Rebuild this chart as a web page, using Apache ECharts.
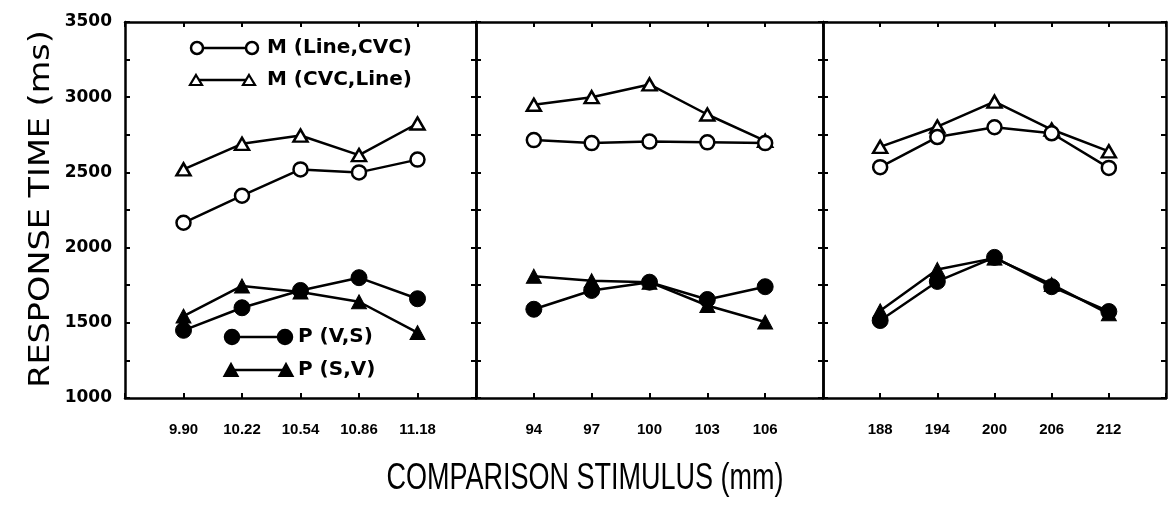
<!DOCTYPE html>
<html>
<head>
<meta charset="utf-8">
<script src="https://cdn.jsdelivr.net/npm/echarts@6/dist/echarts.min.js"></script>
<style>html,body{margin:0;padding:0;background:#fff}#c{width:1169px;height:505px}</style>
</head>
<body>
<div id="c"></div>
<script>
// ---- tick labels / categories ----
const xCats1 = ['9.90', '10.22', '10.54', '10.86', '11.18'];
const xCats2 = ['94', '97', '100', '103', '106'];
const xCats3 = ['188', '194', '200', '206', '212'];
const yLabels = [1000, 1500, 2000, 2500, 3000, 3500];

// ---- series values (ms) ----
// Panel 1
const mLineCVC1 = [2165, 2345, 2520, 2500, 2585];
const mCVCLine1 = [2520, 2690, 2745, 2615, 2825];
const pVS1 = [1450, 1600, 1715, 1800, 1660];
const pSV1 = [1545, 1745, 1705, 1640, 1435];
// Panel 2
const mLineCVC2 = [2715, 2695, 2705, 2700, 2695];
const mCVCLine2 = [2950, 3000, 3085, 2885, 2710];
const pVS2 = [1590, 1715, 1770, 1655, 1740];
const pSV2 = [1810, 1780, 1770, 1615, 1505];
// Panel 3
const mLineCVC3 = [2535, 2735, 2800, 2760, 2530];
const mCVCLine3 = [2670, 2805, 2970, 2785, 2640];
const pVS3 = [1515, 1775, 1935, 1740, 1575];
const pSV3 = [1580, 1855, 1930, 1755, 1560];

const chart = echarts.init(document.getElementById('c'));

const grids = [
  {left: 125, top: 22, width: 351, height: 376},
  {left: 476, top: 22, width: 347, height: 376},
  {left: 823, top: 22, width: 344, height: 376}
];
const cats = [xCats1, xCats2, xCats3];
const AX = {lineStyle: {color: '#000', width: 2.5}};

const xAxes = [], yAxes = [];
grids.forEach((g, gi) => {
  const c = cats[gi];
  xAxes.push({
    type: 'value', gridIndex: gi, min: -1, max: 5, interval: 1, position: 'bottom',
    axisLine: {show: true, onZero: false, lineStyle: AX.lineStyle},
    axisTick: {show: true, inside: true, length: 5, lineStyle: {color: '#000', width: 2}},
    splitLine: {show: false},
    axisLabel: {
      show: true, margin: 24, color: '#000',
      fontFamily: '"Liberation Sans", sans-serif', fontWeight: 'bold', fontSize: 15,
      formatter: v => { const i = Math.round(v); return (i >= 0 && i < c.length) ? c[i] : ''; }
    }
  });
  xAxes.push({
    type: 'value', gridIndex: gi, min: -1, max: 5, interval: 1, position: 'top',
    axisLine: {show: true, onZero: false, lineStyle: AX.lineStyle},
    axisTick: {show: true, inside: true, length: 5, lineStyle: {color: '#000', width: 2}},
    splitLine: {show: false}, axisLabel: {show: false}
  });
  yAxes.push({
    type: 'value', gridIndex: gi, min: 1000, max: 3500, interval: 250, position: 'left',
    axisLine: {show: true, onZero: false, lineStyle: AX.lineStyle},
    axisTick: {show: true, inside: true, length: 5, lineStyle: {color: '#000', width: 2}},
    splitLine: {show: false},
    axisLabel: {
      show: gi === 0, margin: 13, color: '#000',
      fontFamily: '"DejaVu Sans", sans-serif', fontWeight: 'bold', fontSize: 17,
      formatter: v => yLabels.indexOf(v) >= 0 ? String(v) : ''
    }
  });
  yAxes.push({
    type: 'value', gridIndex: gi, min: 1000, max: 3500, interval: 250, position: 'right',
    axisLine: {show: true, onZero: false, lineStyle: AX.lineStyle},
    axisTick: {show: true, inside: true, length: 5, lineStyle: {color: '#000', width: 2}},
    splitLine: {show: false}, axisLabel: {show: false}
  });
});

const styles = {
  mLineCVC: {symbol: 'circle', symbolSize: 14, itemStyle: {color: '#fff', borderColor: '#000', borderWidth: 2.5}},
  mCVCLine: {symbol: 'triangle', symbolSize: [14, 12], itemStyle: {color: '#fff', borderColor: '#000', borderWidth: 2.5}},
  pVS: {symbol: 'circle', symbolSize: 16, itemStyle: {color: '#000', borderColor: '#000', borderWidth: 1}},
  pSV: {symbol: 'triangle', symbolSize: [15, 14], itemStyle: {color: '#000', borderColor: '#000', borderWidth: 1}}
};
const panels = [
  {mLineCVC: mLineCVC1, mCVCLine: mCVCLine1, pVS: pVS1, pSV: pSV1},
  {mLineCVC: mLineCVC2, mCVCLine: mCVCLine2, pVS: pVS2, pSV: pSV2},
  {mLineCVC: mLineCVC3, mCVCLine: mCVCLine3, pVS: pVS3, pSV: pSV3}
];
const series = [];
panels.forEach((p, gi) => {
  ['pSV', 'pVS', 'mCVCLine', 'mLineCVC'].forEach(k => {
    series.push(Object.assign({
      type: 'line', xAxisIndex: gi * 2, yAxisIndex: gi * 2,
      data: p[k].map((v, i) => [i, v]),
      lineStyle: {color: '#000', width: 2.5},
      animation: false, silent: true, z: 3
    }, styles[k]));
  });
});

// legend drawn as graphic decorations
function tri(cx, cy, w, h, fill) {
  return {type: 'polygon', shape: {points: [[cx, cy - h / 2], [cx + w / 2, cy + h / 2], [cx - w / 2, cy + h / 2]]},
    style: {fill: fill, stroke: '#000', lineWidth: 2.2}, z: 10};
}
function circ(cx, cy, r, fill) {
  return {type: 'circle', shape: {cx: cx, cy: cy, r: r}, style: {fill: fill, stroke: '#000', lineWidth: 2.5}, z: 10};
}
function seg(x1, x2, y) {
  return {type: 'line', shape: {x1: x1, y1: y, x2: x2, y2: y}, style: {stroke: '#000', lineWidth: 2.5}, z: 9};
}
function lt(x, y, s) {
  return {type: 'text', x: x, y: y, z: 10, style: {text: s, fill: '#000', font: 'bold 20px "DejaVu Sans", sans-serif', textAlign: 'left', textVerticalAlign: 'middle'}};
}
const graphic = [
  seg(197, 252, 48), circ(197, 48, 6, '#fff'), circ(252, 48, 6, '#fff'), lt(267, 48, 'M (Line,CVC)'),
  seg(196, 249, 80), tri(196, 80, 12, 10, '#fff'), tri(249, 80, 12, 10, '#fff'), lt(267, 80, 'M (CVC,Line)'),
  seg(232, 285, 337), circ(232, 337, 7, '#000'), circ(285, 337, 7, '#000'), lt(298, 337, 'P (V,S)'),
  seg(231, 286, 370), tri(231, 370, 13, 12, '#000'), tri(286, 370, 13, 12, '#000'), lt(298, 370, 'P (S,V)'),
  {type: 'text', x: 41, y: 209, rotation: Math.PI / 2, scaleX: 1.155, z: 10,
    style: {text: 'RESPONSE TIME (ms)', fill: '#000', font: '29px "DejaVu Sans", sans-serif', textAlign: 'center', textVerticalAlign: 'middle'}},
  {type: 'text', x: 585, y: 479, scaleX: 0.73, z: 10,
    style: {text: 'COMPARISON STIMULUS (mm)', fill: '#000', font: '37px "Liberation Sans", sans-serif', textAlign: 'center', textVerticalAlign: 'middle'}}
];

chart.setOption({
  animation: false,
  backgroundColor: '#fff',
  grid: grids.map(g => Object.assign({containLabel: false}, g)),
  xAxis: xAxes,
  yAxis: yAxes,
  series: series,
  graphic: graphic
});
</script>
</body>
</html>
